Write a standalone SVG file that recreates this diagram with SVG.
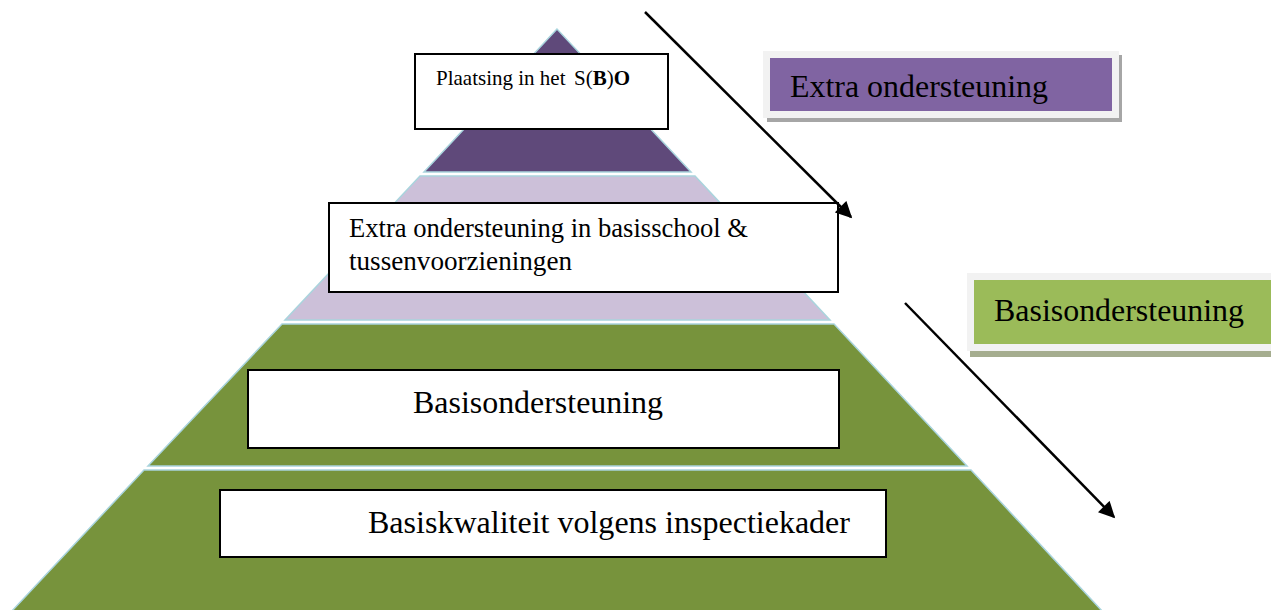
<svg xmlns="http://www.w3.org/2000/svg" width="1271" height="610" viewBox="0 0 1271 610">
<defs>
<marker id="ah" viewBox="0 0 10 10" refX="9" refY="5" markerWidth="7" markerHeight="6.5" orient="auto" markerUnits="strokeWidth">
<path d="M0,0 L10,5 L0,10 z" fill="#000"/>
</marker>
</defs>
<style>
.layer{stroke:#a9d4dd;stroke-width:1.5}
.box{fill:#fff;stroke:#000;stroke-width:2}
.t{font-family:"Liberation Serif","Times New Roman",serif;fill:#000}
.big{font-size:32px}
.mid{font-size:26.6px}
.conn{stroke:#000;stroke-width:2.5;fill:none}
</style>
<rect width="1271" height="610" fill="#fff"/>
<g id="pyramid">
<polygon id="layer-top" class="layer" fill="#5f497a" points="557,29 424,172 691,172"/>
<polygon id="layer-extra" class="layer" fill="#ccc0d9" points="420,176 695,176 830,320 285,320"/>
<polygon id="layer-basis" class="layer" fill="#77933c" points="282,324 834,324 967,466 148,466"/>
<polygon id="layer-kwaliteit" class="layer" fill="#77933c" points="144,470 971,470 1103,612 11,612"/>
</g>
<g id="node-plaatsing">
<rect class="box" x="415" y="54" width="253" height="75"/>
<text class="t" x="436" y="85" font-size="21">Plaatsing in het <tspan x="574">S(</tspan><tspan font-weight="bold">B</tspan>)<tspan font-weight="bold">O</tspan></text>
</g>
<g id="node-extra">
<rect class="box" x="329" y="203" width="509" height="89"/>
<text class="t mid" x="349" y="237" textLength="399" lengthAdjust="spacingAndGlyphs">Extra ondersteuning in basisschool &amp;</text>
<text class="t mid" x="349" y="270" textLength="223" lengthAdjust="spacingAndGlyphs">tussenvoorzieningen</text>
</g>
<g id="node-basis">
<rect class="box" x="248" y="370" width="591" height="78"/>
<text class="t big" x="413" y="413" textLength="250" lengthAdjust="spacingAndGlyphs">Basisondersteuning</text>
</g>
<g id="node-kwaliteit">
<rect class="box" x="220" y="490" width="666" height="67"/>
<text class="t big" x="368" y="533" textLength="482" lengthAdjust="spacingAndGlyphs">Basiskwaliteit volgens inspectiekader</text>
</g>
<g id="legend-extra">
<rect x="767" y="55" width="355" height="67" fill="#a6a6a6"/>
<rect x="763" y="51" width="356" height="67" fill="#f2f2f2"/>
<rect x="770" y="58" width="342" height="53" fill="#8064a2"/>
<text class="t big" x="790" y="97" textLength="258" lengthAdjust="spacingAndGlyphs">Extra ondersteuning</text>
</g>
<g id="legend-basis">
<rect x="970" y="276" width="301" height="81" fill="#a5ad8f"/>
<rect x="967" y="273" width="304" height="78" fill="#f2f2f2"/>
<rect x="974" y="280" width="297" height="64" fill="#9bbb59"/>
<text class="t big" x="994" y="321" textLength="250" lengthAdjust="spacingAndGlyphs">Basisondersteuning</text>
</g>
<g id="connectors">
<line class="conn" x1="645" y1="12" x2="851" y2="217" marker-end="url(#ah)"/>
<line class="conn" x1="905" y1="303" x2="1114" y2="517" marker-end="url(#ah)"/>
</g>
</svg>
